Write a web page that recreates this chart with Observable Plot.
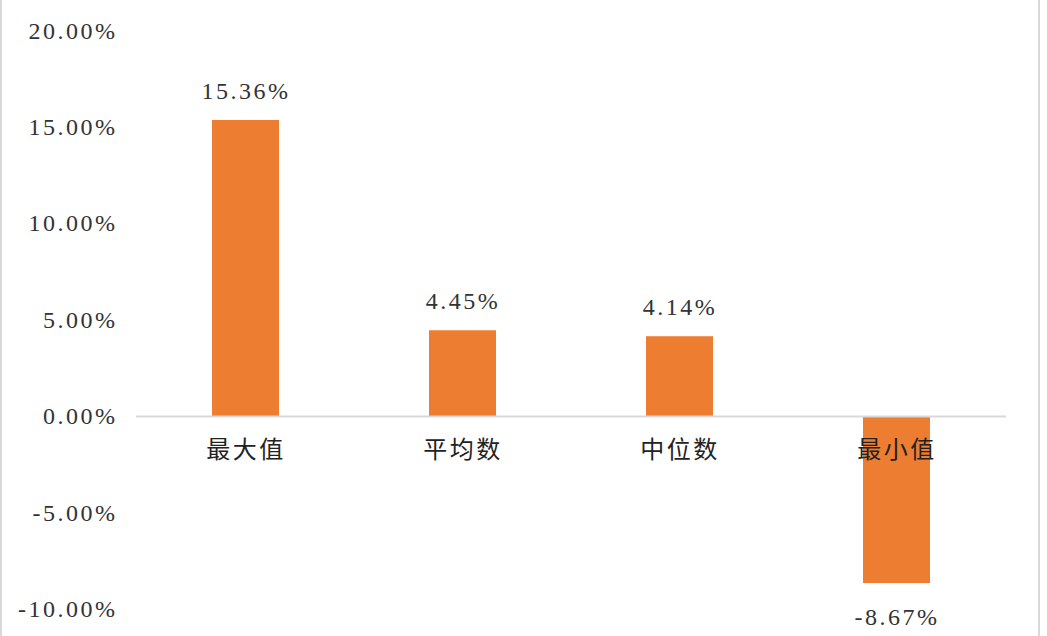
<!DOCTYPE html>
<html>
<head>
<meta charset="utf-8">
<script src="https://cdn.jsdelivr.net/npm/d3@7"></script>
<script src="https://cdn.jsdelivr.net/npm/@observablehq/plot@0.6"></script>
<style>
  html, body { margin: 0; padding: 0; background: #fff; }
  #wrap { position: relative; width: 1047px; height: 636px; overflow: hidden; }
  .edge { position: absolute; top: 0; width: 2px; height: 636px; background: #d9d9d9; }
</style>
</head>
<body>
<div id="wrap">
  <div class="edge" style="left:0"></div>
  <div class="edge" style="left:1038px"></div>
</div>
<script>
const categories = ["最大值", "平均数", "中位数", "最小值"];
const values = [15.36, 4.45, 4.14, -8.67];
const yTicks = [-10, -5, 0, 5, 10, 15, 20];

const data = categories.map((c, i) => ({ name: c, value: values[i] }));
const fmt = d => d.toFixed(2) + "%";
const numFont = "'Liberation Serif', 'Times New Roman', serif";
const cjkFont = "'Noto Sans CJK SC', 'Liberation Serif', serif";

const chart = Plot.plot({
  width: 1047,
  height: 636,
  marginLeft: 136,
  marginRight: 41,
  marginTop: 30.6,
  marginBottom: 27.3,
  style: { background: "transparent", fontFamily: numFont, color: "#333", letterSpacing: "2.5px" },
  x: { domain: categories, paddingInner: 0.69, paddingOuter: 0.345, axis: null },
  y: { domain: [-10, 20], label: null, axis: null },
  marks: [
    Plot.axisY({ ticks: yTicks, tickFormat: fmt, tickSize: 0, tickPadding: 19, label: null,
      fontSize: 24, fill: "#333", fontFamily: numFont }),
    Plot.barY(data, { x: "name", y: "value", fill: "#ED7D31" }),
    Plot.ruleY([0], { stroke: "#d9d9d9", strokeWidth: 2 }),
    Plot.text(data.filter(d => d.value >= 0), { x: "name", y: "value", text: d => fmt(d.value),
      dy: -29, fontSize: 24, fill: "#333", fontFamily: numFont, lineAnchor: "middle" }),
    Plot.text(data.filter(d => d.value < 0), { x: "name", y: "value", text: d => fmt(d.value),
      dy: 34, fontSize: 24, fill: "#333", fontFamily: numFont, lineAnchor: "middle" }),
    Plot.text(data, { x: "name", y: 0, text: "name", dy: 34, fontSize: 24,
      fill: "#222", fontFamily: cjkFont, lineAnchor: "middle" })
  ]
});
document.getElementById("wrap").appendChild(chart);
</script>
</body>
</html>
